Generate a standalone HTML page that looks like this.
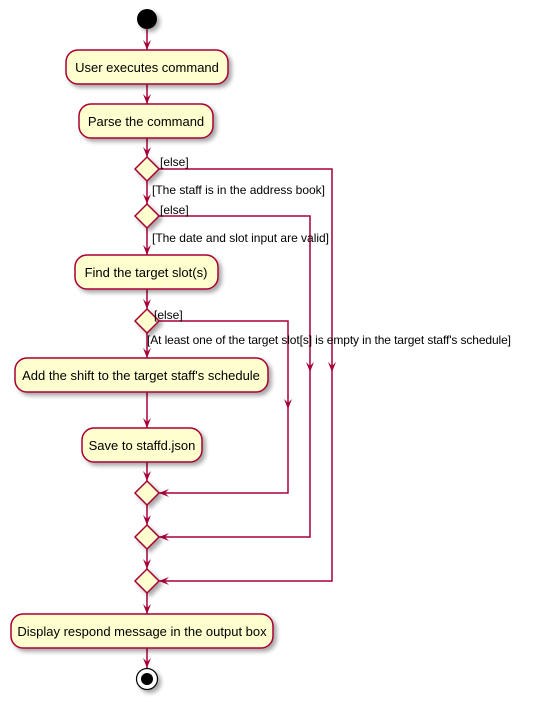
<!DOCTYPE html>
<html><head><meta charset="utf-8"><style>
html,body{margin:0;padding:0;background:#fff;}
svg{display:block;}
text{font-family:"Liberation Sans",sans-serif;fill:#000;}
</style></head><body>
<svg width="542" height="705" viewBox="0 0 542 705" xmlns="http://www.w3.org/2000/svg">
<defs>
<filter id="sh" x="-20%" y="-20%" width="150%" height="160%">
<feGaussianBlur in="SourceAlpha" stdDeviation="2"/>
<feOffset dx="3" dy="3" result="o"/>
<feComponentTransfer><feFuncA type="linear" slope="0.35"/></feComponentTransfer>
<feMerge><feMergeNode/><feMergeNode in="SourceGraphic"/></feMerge>
</filter>
</defs>
<g stroke="#A80036" stroke-width="1.5" fill="none">
<line x1="147" y1="29" x2="147" y2="50"/>
<line x1="147" y1="84" x2="147" y2="104"/>
<line x1="147" y1="138" x2="147" y2="157"/>
<line x1="147" y1="181" x2="147" y2="204"/>
<line x1="147" y1="228" x2="147" y2="255"/>
<line x1="147" y1="289" x2="147" y2="309"/>
<line x1="147" y1="333" x2="147" y2="358"/>
<line x1="147" y1="392" x2="147" y2="428"/>
<line x1="147" y1="462" x2="147" y2="481"/>
<line x1="147" y1="505" x2="147" y2="525"/>
<line x1="147" y1="549" x2="147" y2="569"/>
<line x1="147" y1="593" x2="147" y2="614"/>
<line x1="147" y1="648" x2="147" y2="668"/>
<polyline points="159,169 332,169 332,581 159,581"/>
<polyline points="159,216 310,216 310,537 159,537"/>
<polyline points="159,321 288,321 288,493 159,493"/>
</g>
<g fill="#A80036">
<polygon points="143,40 147,50 151,40 147,44"/>
<polygon points="143,94 147,104 151,94 147,98"/>
<polygon points="143,147 147,157 151,147 147,151"/>
<polygon points="143,194 147,204 151,194 147,198"/>
<polygon points="143,245 147,255 151,245 147,249"/>
<polygon points="143,299 147,309 151,299 147,303"/>
<polygon points="143,348 147,358 151,348 147,352"/>
<polygon points="143,418 147,428 151,418 147,422"/>
<polygon points="143,471 147,481 151,471 147,475"/>
<polygon points="143,515 147,525 151,515 147,519"/>
<polygon points="143,559 147,569 151,559 147,563"/>
<polygon points="143,604 147,614 151,604 147,608"/>
<polygon points="143,658 147,668 151,658 147,662"/>
<polygon points="328,362 332,372 336,362 332,366"/>
<polygon points="306,362 310,372 314,362 310,366"/>
<polygon points="284,399 288,409 292,399 288,403"/>
<polygon points="169,489 159,493 169,497 165,493"/>
<polygon points="169,533 159,537 169,541 165,537"/>
<polygon points="169,577 159,581 169,585 165,581"/>
</g>
<circle cx="147" cy="19" r="10" fill="#000" filter="url(#sh)"/>
<g fill="#FEFECE" stroke="#A80036" stroke-width="1.5" filter="url(#sh)">
<rect x="66" y="50" width="162" height="34" rx="12"/>
<rect x="79" y="104" width="134" height="34" rx="12"/>
<rect x="75" y="255" width="143" height="34" rx="12"/>
<rect x="15" y="358" width="253" height="34" rx="12"/>
<rect x="82" y="428" width="120" height="34" rx="12"/>
<rect x="11" y="614" width="262" height="34" rx="12"/>
<polygon points="147,157 159,169 147,181 135,169"/>
<polygon points="147,204 159,216 147,228 135,216"/>
<polygon points="147,309 159,321 147,333 135,321"/>
<polygon points="147,481 159,493 147,505 135,493"/>
<polygon points="147,525 159,537 147,549 135,537"/>
<polygon points="147,569 159,581 147,593 135,581"/>
</g>
<circle cx="147" cy="679" r="10.5" fill="#fff" stroke="#000" stroke-width="1.2" filter="url(#sh)"/>
<circle cx="147" cy="679" r="6" fill="#000"/>
<g font-size="13" text-anchor="middle">
<text x="147" y="72">User executes command</text>
<text x="146" y="126">Parse the command</text>
<text x="146" y="277">Find the target slot(s)</text>
<text x="141" y="380">Add the shift to the target staff's schedule</text>
<text x="142" y="450">Save to staffd.json</text>
<text x="142" y="636">Display respond message in the output box</text>
</g>
<g font-size="12">
<text x="160" y="166">[else]</text>
<text x="152" y="194" textLength="173">[The staff is in the address book]</text>
<text x="160" y="214">[else]</text>
<text x="152" y="242" textLength="177">[The date and slot input are valid]</text>
<text x="154" y="319">[else]</text>
<text x="147" y="344" textLength="364">[At least one of the target slot[s] is empty in the target staff's schedule]</text>
</g>
</svg>
</body></html>
